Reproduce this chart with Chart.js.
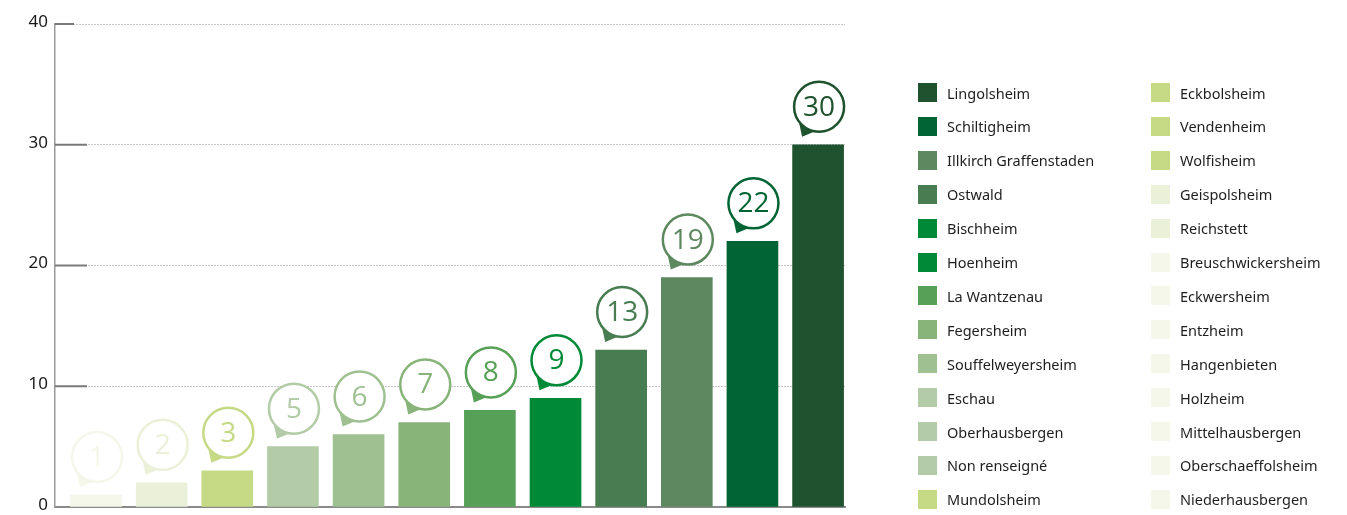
<!DOCTYPE html>
<html lang="fr">
<head>
<meta charset="utf-8">
<title>Communes</title>
<script src="https://cdn.jsdelivr.net/npm/chart.js@4.4.1/dist/chart.umd.min.js"></script>
<style>
  body { margin: 0; background: #fff; font-family: "Noto Sans", sans-serif; }
  #wrap { position: relative; width: 1347px; height: 515px; }
  #legend { position: absolute; left: 0; top: 0; }
  .item { position: absolute; display: flex; align-items: center; height: 19px; font-size: 14.5px; color: #1e1e1e; white-space: nowrap; }
  .item span.box { width: 19px; height: 19px; margin-right: 10px; flex: none; }
</style>
</head>
<body>
<div id="wrap">
  <canvas id="chart" width="1347" height="515"></canvas>
  <div id="legend"></div>
</div>
<script>
// valeurs des barres (une barre par niveau)
const barValues = [1, 2, 3, 5, 6, 7, 8, 9, 13, 19, 22, 30];
const barColors = ["#f4f7ea", "#ebf1d9", "#c6d984", "#b3cca7", "#9fc192", "#88b47a",
  "#57a057", "#008a37", "#487c51", "#5e8860", "#006434", "#1f522e"];
const yTicks = [0, 10, 20, 30, 40];

// communes de la légende et leur valeur
const communes = ["Lingolsheim", "Schiltigheim", "Illkirch Graffenstaden", "Ostwald", "Bischheim",
  "Hoenheim", "La Wantzenau", "Fegersheim", "Souffelweyersheim", "Eschau", "Oberhausbergen",
  "Non renseigné", "Mundolsheim", "Eckbolsheim", "Vendenheim", "Wolfisheim", "Geispolsheim",
  "Reichstett", "Breuschwickersheim", "Eckwersheim", "Entzheim", "Hangenbieten", "Holzheim",
  "Mittelhausbergen", "Oberschaeffolsheim", "Niederhausbergen"];
const communeValues = [30, 22, 19, 13, 9, 9, 8, 7, 6, 5, 5, 5, 3, 3, 3, 3, 2, 2, 1, 1, 1, 1, 1, 1, 1, 1];

// légende html en deux colonnes
const legend = document.getElementById("legend");
communes.forEach((name, i) => {
  const col = i < 13 ? 0 : 1;
  const row = i % 13;
  const div = document.createElement("div");
  div.className = "item";
  div.style.left = (col ? 1151 : 918) + "px";
  div.style.top = (83 + row * 33.9) + "px";
  const box = document.createElement("span");
  box.className = "box";
  box.style.background = barColors[barValues.indexOf(communeValues[i])];
  div.appendChild(box);
  div.appendChild(document.createTextNode(name));
  legend.appendChild(div);
});

// bulles au-dessus des barres
const bubbles = {
  id: "bubbles",
  afterDatasetsDraw(chart) {
    const ctx = chart.ctx;
    chart.getDatasetMeta(0).data.forEach((bar, i) => {
      const color = barColors[i];
      const cx = bar.x + 1, cy = bar.y - 38, r = 25;
      ctx.save();
      ctx.fillStyle = color;
      ctx.beginPath();
      ctx.moveTo(cx - 20, cy + 16);
      ctx.lineTo(cx - 17, cy + 30);
      ctx.lineTo(cx - 5, cy + 25);
      ctx.closePath();
      ctx.fill();
      ctx.beginPath();
      ctx.arc(cx, cy, r, 0, Math.PI * 2);
      ctx.fillStyle = "#fff";
      ctx.fill();
      ctx.lineWidth = 2.5;
      ctx.strokeStyle = color;
      ctx.stroke();
      ctx.fillStyle = color;
      ctx.font = '500 28px "Open Sans"';
      ctx.textAlign = "center";
      ctx.textBaseline = "middle";
      ctx.fillText(String(barValues[i]), cx, cy + 1);
      ctx.restore();
    });
  }
};

// petits traits de graduation à l'intérieur de l'axe
const tickMarks = {
  id: "tickMarks",
  afterDraw(chart) {
    const ctx = chart.ctx;
    const y = chart.scales.y;
    ctx.save();
    ctx.strokeStyle = "#7a7a7a";
    ctx.lineWidth = 2;
    y.ticks.forEach(t => {
      if (t.value === 0) return;
      const py = y.getPixelForValue(t.value);
      const len = t.value === y.max ? 19 : 32;
      ctx.beginPath();
      ctx.moveTo(chart.chartArea.left, py);
      ctx.lineTo(chart.chartArea.left + len, py);
      ctx.stroke();
    });
    ctx.restore();
  }
};

new Chart(document.getElementById("chart"), {
  type: "bar",
  data: {
    datasets: [{
      data: barValues.map((v, i) => ({ x: i, y: v })),
      backgroundColor: barColors,
      borderWidth: 0,
      barThickness: 51
    }]
  },
  options: {
    responsive: false,
    animation: false,
    layout: { padding: { top: 24, right: 502, bottom: 8, left: 0 } },
    plugins: { legend: { display: false }, tooltip: { enabled: false } },
    scales: {
      x: {
        type: "linear",
        offset: false,
        min: -0.625,
        max: 11.41,
        ticks: { display: false },
        grid: { display: false },
        border: { display: true, color: "#8a8a8a", width: 2 },
        afterFit: s => { s.height = 0; }
      },
      y: {
        min: 0,
        max: 40,
        afterBuildTicks: s => { s.ticks = yTicks.map(v => ({ value: v })); },
        ticks: { padding: 7, labelOffset: -2, color: "#1a1a1a", font: { family: "Noto Sans", size: 17 } },
        grid: {
          drawTicks: false,
          tickLength: 0,
          lineWidth: 1,
          color: c => c.tick && c.tick.value === 0 ? "rgba(0,0,0,0)" : "#8c8c8c"
        },
        border: { display: true, color: "#9a9a9a", width: 1.5, dash: [1, 2] },
        afterFit: s => { s.width = 55; s.paddingTop = 0; s.paddingBottom = 0; }
      }
    }
  },
  plugins: [bubbles, tickMarks]
});
</script>
</body>
</html>
